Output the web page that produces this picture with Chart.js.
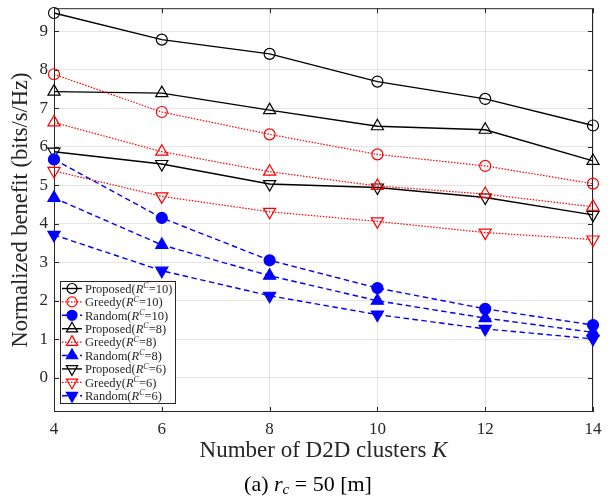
<!DOCTYPE html>
<html>
<head>
<meta charset="utf-8">
<script src="https://cdn.jsdelivr.net/npm/chart.js@4.4.0/dist/chart.umd.min.js"></script>
<style>
  html, body { margin: 0; padding: 0; background: #fff; overflow: hidden; }
  #myChart { display: block; }
</style>
</head>
<body>
<canvas id="myChart" width="616" height="501"></canvas>
<script>
// number of D2D clusters K
var clusters = [4, 6, 8, 10, 12, 14];
var yTicks = [0, 1, 2, 3, 4, 5, 6, 7, 8, 9];

var proposed10 = [9.47, 8.78, 8.41, 7.69, 7.24, 6.55];
var greedy10   = [7.88, 6.90, 6.32, 5.80, 5.50, 5.04];
var random10   = [5.67, 4.15, 3.05, 2.33, 1.79, 1.37];
var proposed8  = [7.43, 7.39, 6.95, 6.53, 6.44, 5.63];
var greedy8    = [6.63, 5.87, 5.35, 4.98, 4.77, 4.44];
var random8    = [4.67, 3.45, 2.65, 2.00, 1.55, 1.18];
var proposed6  = [5.87, 5.55, 5.03, 4.94, 4.68, 4.23];
var greedy6    = [5.37, 4.71, 4.31, 4.06, 3.77, 3.59];
var random6    = [3.71, 2.78, 2.13, 1.64, 1.27, 1.01];

var FONT = '"Liberation Serif", "DejaVu Serif", serif';

function pts(vals) {
  return vals.map(function (v, i) { return { x: clusters[i], y: v }; });
}

function series(name, rc, vals, kind, marker) {
  var color = kind === 'proposed' ? '#000000' : (kind === 'greedy' ? '#ff0000' : '#0000ff');
  var rot = 0;
  var style = 'circle';
  if (marker === 'up') style = 'triangle';
  if (marker === 'down') { style = 'triangle'; rot = 180; }
  var filled = kind === 'random';
  return {
    label: name,
    rc: rc,
    data: pts(vals),
    clip: false,
    borderColor: color,
    borderWidth: kind === 'greedy' ? 1.2 : 1.4,
    borderDash: kind === 'greedy' ? [1.5, 1.5] : (kind === 'random' ? [5.5, 3.5] : []),
    pointStyle: style,
    pointRotation: rot,
    pointRadius: marker === 'circle' ? 5.5 : 7,
    pointBorderWidth: 1.2,
    pointBorderColor: color,
    pointBackgroundColor: filled ? color : 'rgba(0,0,0,0)',
    tension: 0,
    fill: false
  };
}

var datasets = [
  series('Proposed', '10', proposed10, 'proposed', 'circle'),
  series('Greedy', '10', greedy10, 'greedy', 'circle'),
  series('Random', '10', random10, 'random', 'circle'),
  series('Proposed', '8', proposed8, 'proposed', 'up'),
  series('Greedy', '8', greedy8, 'greedy', 'up'),
  series('Random', '8', random8, 'random', 'up'),
  series('Proposed', '6', proposed6, 'proposed', 'down'),
  series('Greedy', '6', greedy6, 'greedy', 'down'),
  series('Random', '6', random6, 'random', 'down')
];

// frame and inward ticks under the lines
var frame = {
  id: 'frame',
  beforeDatasetsDraw: function (chart) {
    var c = chart.ctx, a = chart.chartArea;
    var xs = chart.scales.x, ys = chart.scales.y;
    c.save();
    c.strokeStyle = '#262626';
    c.lineWidth = 1;
    c.strokeRect(a.left + 0.5, a.top + 0.5, a.right - a.left - 1, a.bottom - a.top - 1);
    c.beginPath();
    clusters.forEach(function (k) {
      var px = Math.round(xs.getPixelForValue(k)) + 0.5;
      c.moveTo(px, a.bottom); c.lineTo(px, a.bottom - 5);
      c.moveTo(px, a.top); c.lineTo(px, a.top + 5);
    });
    yTicks.forEach(function (v) {
      var py = Math.round(ys.getPixelForValue(v)) + 0.5;
      c.moveTo(a.left, py); c.lineTo(a.left + 5, py);
      c.moveTo(a.right, py); c.lineTo(a.right - 5, py);
    });
    c.stroke();
    c.restore();
  }
};

// titles, caption, legend
var decor = {
  id: 'decor',
  afterDatasetsDraw: function (chart) {
    var c = chart.ctx, a = chart.chartArea;
    c.save();
    c.fillStyle = '#262626';
    c.textBaseline = 'middle';
    var t1 = 'Number of D2D clusters ';
    c.font = 'italic 23px ' + FONT;
    var wK = c.measureText('K').width;
    c.font = '23px ' + FONT;
    var w1 = c.measureText(t1).width;
    var cx = (a.left + a.right) / 2;
    var sx = cx - (w1 + wK) / 2;
    c.textAlign = 'left';
    c.fillText(t1, sx, 451);
    c.font = 'italic 23px ' + FONT;
    c.fillText('K', sx + w1, 451);

    c.save();
    c.translate(21, 210);
    c.rotate(-Math.PI / 2);
    c.textAlign = 'center';
    c.font = '22.5px ' + FONT;
    c.fillText('Normalized benefit (bits/s/Hz)', 0, 0);
    c.restore();

    // caption
    c.fillStyle = '#000';
    var parts = [['(a) ', '22px'], ['r', 'italic 22px'], ['c', 'italic 15px', 5], [' = 50 [m]', '22px']];
    var tw = 0;
    parts.forEach(function (p) { c.font = p[1] + ' ' + FONT; tw += c.measureText(p[0]).width; });
    var px0 = 308 - tw / 2;
    parts.forEach(function (p) {
      c.font = p[1] + ' ' + FONT;
      c.fillText(p[0], px0, 485 + (p[2] || 0));
      px0 += c.measureText(p[0]).width;
    });

    // legend
    var lx = 60, ly = 281, lw = 115, lh = 122;
    c.fillStyle = '#fff';
    c.fillRect(lx, ly, lw, lh);
    c.strokeStyle = '#262626';
    c.lineWidth = 1;
    c.strokeRect(lx + 0.5, ly + 0.5, lw, lh);
    var step = 13.4;
    chart.data.datasets.forEach(function (ds, i) {
      var y = ly + 7.5 + i * step;
      c.save();
      c.strokeStyle = ds.borderColor;
      c.lineWidth = ds.borderWidth;
      c.setLineDash(ds.borderDash);
      c.beginPath();
      c.moveTo(lx + 2, y); c.lineTo(lx + 22, y);
      c.stroke();
      c.setLineDash([]);
      c.fillStyle = ds.pointBackgroundColor;
      c.lineWidth = ds.pointBorderWidth;
      Chart.helpers.drawPoint(c, {
        pointStyle: ds.pointStyle,
        rotation: ds.pointRotation,
        radius: ds.pointStyle === 'circle' ? 5 : 6.5,
        borderWidth: ds.pointBorderWidth
      }, lx + 12, y);
      c.restore();
      c.fillStyle = '#262626';
      c.textAlign = 'left';
      c.textBaseline = 'middle';
      var tx = lx + 25;
      var segs = [[ds.label + '(', '12.5px', 0], ['R', 'italic 12.5px', 0], ['C', 'italic 8px', -3.5], ['=' + ds.rc + ')', '12.5px', 0]];
      segs.forEach(function (s) {
        c.font = s[1] + ' ' + FONT;
        c.fillText(s[0], tx, y + 1 + s[2]);
        tx += c.measureText(s[0]).width;
      });
    });
    c.restore();
  }
};

var ctx = document.getElementById('myChart').getContext('2d');
var chart = new Chart(ctx, {
  type: 'line',
  data: { datasets: datasets },
  options: {
    responsive: false,
    animation: false,
    devicePixelRatio: 1,
    layout: { padding: { top: 7, right: 23, left: 0, bottom: 0 } },
    plugins: { legend: { display: false }, tooltip: { enabled: false } },
    scales: {
      x: {
        type: 'linear',
        min: 4,
        max: 14,
        afterFit: function (s) { s.height = 89; s.paddingLeft = 0; s.paddingRight = 0; },
        afterBuildTicks: function (s) { s.ticks = clusters.map(function (v) { return { value: v }; }); },
        grid: { color: 'rgba(0,0,0,0.1)', drawTicks: false },
        border: { display: false },
        ticks: { color: '#262626', padding: 7, font: { family: FONT, size: 17 } }
      },
      y: {
        min: -0.888,
        max: 9.595,
        afterFit: function (s) { s.width = 54; s.paddingTop = 0; s.paddingBottom = 0; },
        afterBuildTicks: function (s) { s.ticks = yTicks.map(function (v) { return { value: v }; }); },
        grid: { color: 'rgba(0,0,0,0.1)', drawTicks: false },
        border: { display: false },
        ticks: { color: '#262626', padding: 6, font: { family: FONT, size: 17 } }
      }
    }
  },
  plugins: [frame, decor]
});
</script>
</body>
</html>
